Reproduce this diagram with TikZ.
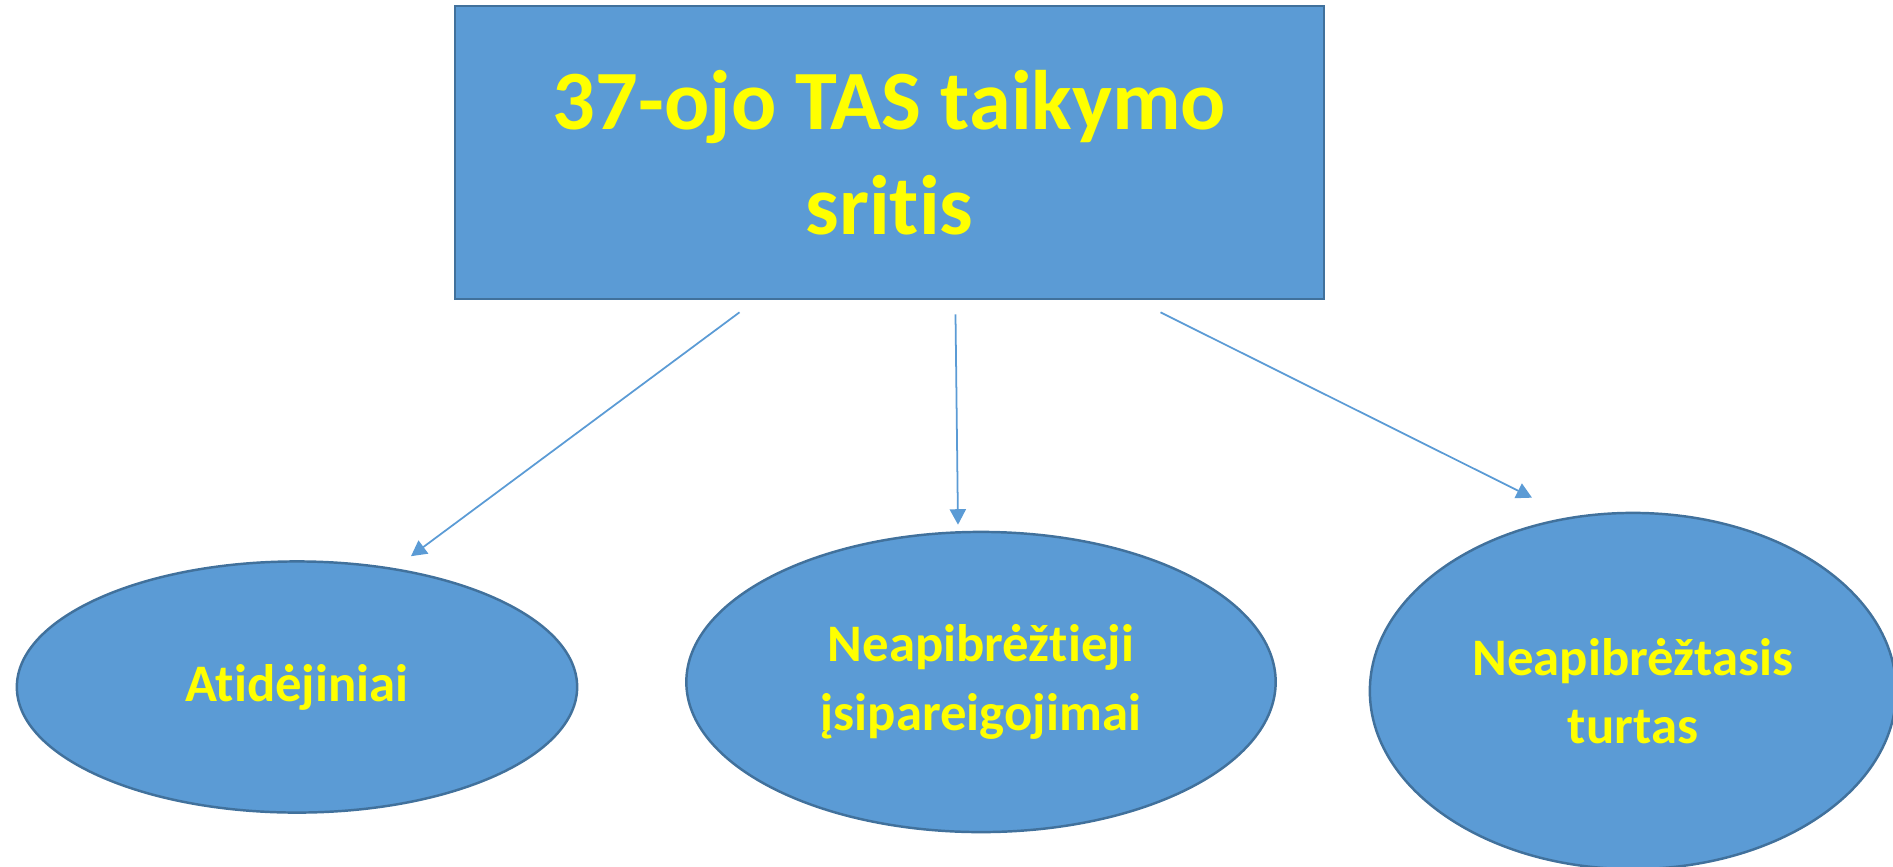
\documentclass[tikz,border=0pt]{standalone}
\usepackage{fontspec}
\setmainfont{Carlito}[Ligatures=NoCommon]
\usepackage{xcolor}
\usepackage{tikz}
\usetikzlibrary{shapes,arrows,positioning,calc,arrows.meta}

\definecolor{boxblue}{HTML}{5B9BD5}
\definecolor{boxedge}{HTML}{41719C}
\definecolor{txtyellow}{HTML}{FFFF00}

\tikzset{
    topic/.style={draw=boxedge, line width=0.7pt, fill=boxblue, text=txtyellow,
        font=\fontsize{24}{30}\selectfont\bfseries, align=center, inner sep=0pt},
    area/.style={ellipse, draw=boxedge, line width=0.7pt, fill=boxblue, text=txtyellow,
        font=\fontsize{15}{19.5}\selectfont\bfseries, align=center, inner sep=0pt},
    link/.style={draw=boxblue, line width=0.5pt, -{Triangle[width=4.6pt,length=4.4pt]}}
}

\begin{document}
\begin{tikzpicture}[x=0.01cm, y=-0.01cm]
    \useasboundingbox (0,0) rectangle (1893,866);

    % Main box
    \node[topic, minimum width=8.69cm, minimum height=2.93cm] (box) at (889.5,152.5)
        {37-ojo TAS taikymo\\sritis};

    % Areas
    \node[area, minimum width=5.6cm, minimum height=2.51cm] (prov) at (297,687) {Atidėjiniai};
    \node[area, minimum width=5.89cm, minimum height=3.0cm] (liab) at (981,682)
        {Neapibrėžtieji\\įsipareigojimai};
    \node[area, minimum width=5.26cm, minimum height=3.56cm] (asset) at (1633,691)
        {Neapibrėžtasis\\turtas};

    % Arrows
    \draw[link] ($(box.south)+(-150,12)$) -- ($(prov.north)+(114,-4)$);
    \draw[link] ($(box.south)+(66,14)$) -- ($(liab.north)+(-23,-6)$);
    \draw[link] ($(box.south)+(271,12)$) -- ($(asset.north)+(-101,-14)$);
\end{tikzpicture}
\end{document}
